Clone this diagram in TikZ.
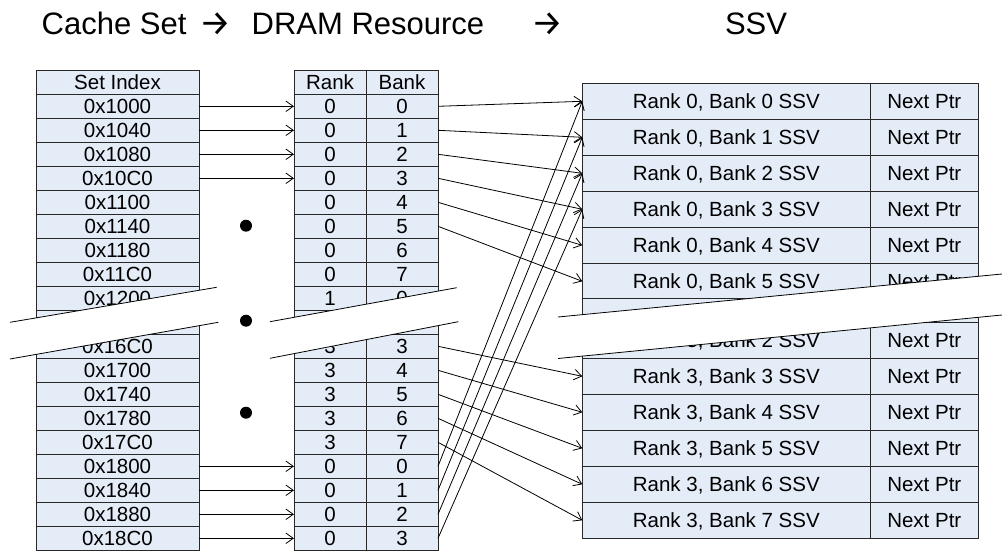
\documentclass[tikz,border=0pt]{standalone}
\usepackage{fontspec}
\setmainfont{Liberation Sans}
\newfontfamily\arrowfont{Fira Sans}
\usetikzlibrary{arrows.meta}
\definecolor{cellfill}{RGB}{228,236,247}
\definecolor{cellline}{RGB}{40,40,40}

\begin{document}
\begin{tikzpicture}[x=1pt,y=-1pt,
  every node/.style={inner sep=0pt, outer sep=0pt},
  cell/.style={draw=cellline, fill=cellfill, line width=0.9pt,
    font=\fontsize{20.5}{24}\selectfont, text height=14.6pt, text depth=0pt,
    minimum height=24pt},
  setcell/.style={cell, minimum width=163pt},
  rbcell/.style={cell, minimum width=72pt},
  ssvcell/.style={cell, minimum width=288pt, minimum height=36pt},
  ptrcell/.style={cell, minimum width=108pt, minimum height=36pt},
  link/.style={line width=0.8pt, -{Straight Barb[length=7.5pt,width=10.5pt]}},
  cut/.style={line width=0.8pt},
  dot/.style={circle, fill=black, minimum size=12pt},
  title/.style={font=\fontsize{31}{34}\selectfont, anchor=base west},
  titlearrow/.style={anchor=base west},
]
\useasboundingbox (0,0) rectangle (1002,551);

% heading line
\node[title] (h1) at (41.7,35) {Cache Set};
\node[titlearrow] (h2) at (199,36) {\resizebox{32pt}{!}{\arrowfont →}};
\node[title] (h3) at (251.7,35) {DRAM Resource};
\node[titlearrow] (h4) at (531,36) {\resizebox{32pt}{!}{\arrowfont →}};
\node[title] (h5) at (725,35) {SSV};

% cache set indices
\node[setcell] (sh) at (117.5,82.3) {Set Index};
\foreach \t [count=\i] in {0x1000,0x1040,0x1080,0x10C0,0x1100,0x1140,0x1180,0x11C0,0x1200,{},0x16C0,0x1700,0x1740,0x1780,0x17C0,0x1800,0x1840,0x1880,0x18C0}
  \node[setcell] (s\i) at (117.5,{94.3+(\i-0.5)*24}) {\t};

% rank / bank table
\node[rbcell] (mh) at (330,82.3) {Rank};
\node[rbcell] (bh) at (402,82.3) {Bank};
\foreach \r/\b [count=\i] in {0/0,0/1,0/2,0/3,0/4,0/5,0/6,0/7,1/0,{}/{},3/3,3/4,3/5,3/6,3/7,0/0,0/1,0/2,0/3} {
  \node[rbcell] (m\i) at (330,{94.3+(\i-0.5)*24}) {\r};
  \node[rbcell] (b\i) at (402,{94.3+(\i-0.5)*24}) {\b};
}

% SSV list, rank 0
\foreach \k in {0,...,5} {
  \node[ssvcell] (t\k) at (726.3,{83.3+(\k+0.5)*36}) {Rank 0, Bank \k\ SSV};
  \node[ptrcell] (tp\k) at (924.3,{83.3+(\k+0.5)*36}) {Next Ptr};
}
\node[ssvcell, minimum height=24pt] (g) at (726.3,310.3) {};
\node[ptrcell, minimum height=24pt] (gp) at (924.3,310.3) {};
% SSV list, rank 3
\foreach \k in {2,...,7} {
  \node[ssvcell] (u\k) at (726.3,{322.3+(\k-1.5)*36}) {Rank 3, Bank \k\ SSV};
  \node[ptrcell] (up\k) at (924.3,{322.3+(\k-1.5)*36}) {Next Ptr};
}

% set index -> DRAM resource
\foreach \i in {1,2,3,4,16,17,18,19}
  \draw[link] (s\i.east) -- (m\i.west);

% DRAM resource -> SSV
\foreach \i/\k in {1/0,2/1,3/2,4/3,5/4,6/5,16/0,17/1,18/2,19/3}
  \draw[link] (b\i.east) -- (t\k.west);
\foreach \i/\k in {11/3,12/4,13/5,14/6,15/7}
  \draw[link] (b\i.east) -- (u\k.west);

% break bands
\fill[white] (10,322.3) -- (216.7,287.3) -- (218.3,322.3) -- (10,359) -- cycle;
\draw[cut] (10,322.3) -- (216.7,287.3);
\draw[cut] (10,359) -- (218.3,322.3);
\fill[white] (270,321.7) -- (456.7,287.7) -- (458.3,321.7) -- (270,358.3) -- cycle;
\draw[cut] (270,321.7) -- (456.7,287.7);
\draw[cut] (270,358.3) -- (458.3,321.7);
\fill[white] (558,317) -- (1002,274) -- (1002,315) -- (558,358.5) -- cycle;
\draw[cut] (558,317) -- (1002,274);
\draw[cut] (558,358.5) -- (1002,315);

% ellipsis dots
\node[dot] (d1) at (246,225.7) {};
\node[dot] (d2) at (246,320.7) {};
\node[dot] (d3) at (246,412.7) {};
\end{tikzpicture}
\end{document}
